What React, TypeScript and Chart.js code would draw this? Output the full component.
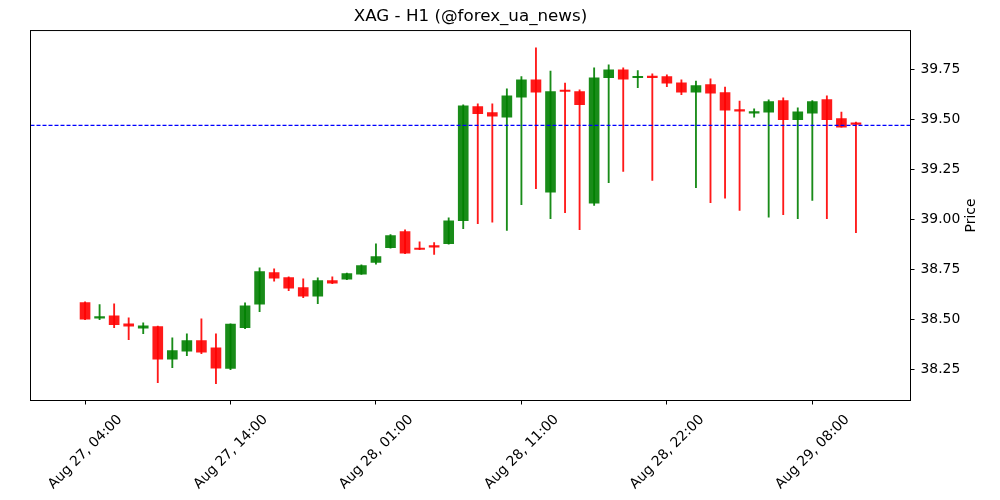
import React, { useEffect, useRef } from "react";
import { Chart, registerables } from "chart.js";

Chart.register(...registerables);

// ---- data ----
const timeLabels = [
  "Aug 27, 04:00", "Aug 27, 05:00", "Aug 27, 06:00", "Aug 27, 07:00", "Aug 27, 08:00",
  "Aug 27, 09:00", "Aug 27, 10:00", "Aug 27, 11:00", "Aug 27, 12:00", "Aug 27, 13:00",
  "Aug 27, 14:00", "Aug 27, 15:00", "Aug 27, 16:00", "Aug 27, 17:00", "Aug 27, 18:00",
  "Aug 27, 19:00", "Aug 27, 20:00", "Aug 27, 22:00", "Aug 27, 23:00", "Aug 28, 00:00",
  "Aug 28, 01:00", "Aug 28, 02:00", "Aug 28, 03:00", "Aug 28, 04:00", "Aug 28, 05:00",
  "Aug 28, 06:00", "Aug 28, 07:00", "Aug 28, 08:00", "Aug 28, 09:00", "Aug 28, 10:00",
  "Aug 28, 11:00", "Aug 28, 12:00", "Aug 28, 13:00", "Aug 28, 14:00", "Aug 28, 15:00",
  "Aug 28, 16:00", "Aug 28, 17:00", "Aug 28, 18:00", "Aug 28, 19:00", "Aug 28, 20:00",
  "Aug 28, 22:00", "Aug 28, 23:00", "Aug 29, 00:00", "Aug 29, 01:00", "Aug 29, 02:00",
  "Aug 29, 03:00", "Aug 29, 04:00", "Aug 29, 05:00", "Aug 29, 06:00", "Aug 29, 07:00",
  "Aug 29, 08:00", "Aug 29, 09:00", "Aug 29, 10:00", "Aug 29, 11:00",
];

const opens = [
  38.586, 38.508, 38.52, 38.48, 38.458, 38.466, 38.303, 38.343, 38.396, 38.36,
  38.256, 38.46, 38.578, 38.736, 38.711, 38.661, 38.618, 38.696, 38.703, 38.728,
  38.786, 38.86, 38.941, 38.858, 38.87, 38.88, 38.995, 39.566, 39.536, 39.513,
  39.613, 39.70, 39.138, 39.646, 39.641, 39.083, 39.71, 39.75, 39.71, 39.718,
  39.716, 39.685, 39.638, 39.676, 39.636, 39.548, 39.533, 39.538, 39.596, 39.50,
  39.533, 39.601, 39.506, 39.485,
];
const highs = [
  38.59, 38.576, 38.58, 38.51, 38.485, 38.468, 38.41, 38.43, 38.505, 38.43,
  38.48, 38.585, 38.76, 38.755, 38.715, 38.705, 38.71, 38.715, 38.733, 38.775,
  38.88, 38.926, 38.95, 38.89, 38.886, 39.01, 39.575, 39.58, 39.58, 39.655,
  39.716, 39.86, 39.743, 39.683, 39.65, 39.76, 39.775, 39.76, 39.746, 39.73,
  39.725, 39.70, 39.693, 39.705, 39.663, 39.593, 39.555, 39.60, 39.61, 39.56,
  39.596, 39.62, 39.538, 39.488,
];
const lows = [
  38.50, 38.50, 38.46, 38.40, 38.43, 38.185, 38.26, 38.32, 38.33, 38.18,
  38.25, 38.455, 38.54, 38.693, 38.645, 38.61, 38.58, 38.68, 38.70, 38.726,
  38.778, 38.858, 38.83, 38.85, 38.826, 38.878, 38.955, 38.98, 38.988, 38.946,
  39.075, 39.155, 39.005, 39.035, 38.95, 39.071, 39.185, 39.241, 39.66, 39.196,
  39.665, 39.625, 39.16, 39.085, 39.108, 39.046, 39.513, 39.013, 39.025, 39.005,
  39.096, 39.005, 39.463, 38.935,
];
const closes = [
  38.503, 38.515, 38.475, 38.468, 38.47, 38.303, 38.346, 38.396, 38.338, 38.258,
  38.478, 38.57, 38.741, 38.708, 38.658, 38.618, 38.696, 38.683, 38.731, 38.771,
  38.816, 38.921, 38.833, 38.851, 38.863, 38.995, 39.57, 39.53, 39.518, 39.62,
  39.70, 39.638, 39.641, 39.641, 39.575, 39.71, 39.75, 39.703, 39.716, 39.71,
  39.683, 39.638, 39.671, 39.633, 39.548, 39.543, 39.541, 39.591, 39.50, 39.54,
  39.591, 39.50, 39.463, 39.476,
];

const currentPrice = 39.472;
const xTickIndices = [0, 10, 20, 30, 40, 50];
const yTickValues = [38.25, 38.5, 38.75, 39.0, 39.25, 39.5, 39.75];
const chartTitle = "XAG - H1 (@forex_ua_news)";
const yAxisTitle = "Price";

// ---- view settings ----
const X_MIN = -3.75;
const X_MAX = 56.75;
const Y_MIN = 38.096;
const Y_MAX = 39.946;
const FONT = "'DejaVu Sans', sans-serif";
const TICK_SIZE = 13.9;
const UP = "rgba(0,128,0,0.9)";
const DOWN = "rgba(255,0,0,0.9)";

const framePlugin = {
  id: "frameAndLabel",
  afterDatasetsDraw(chart: any) {
    const { ctx, chartArea: a } = chart;
    ctx.save();
    ctx.strokeStyle = "#000";
    ctx.lineWidth = 1;
    ctx.strokeRect(a.left, a.top, a.right - a.left, a.bottom - a.top);
    ctx.restore();
  },
  afterDraw(chart: any) {
    const { ctx, chartArea: a } = chart;
    ctx.save();
    ctx.translate(971, (a.top + a.bottom) / 2);
    ctx.rotate(-Math.PI / 2);
    ctx.font = `${TICK_SIZE}px ${FONT}`;
    ctx.fillStyle = "#000";
    ctx.textAlign = "center";
    ctx.textBaseline = "middle";
    ctx.fillText(yAxisTitle, 0, 0);
    ctx.restore();
  },
};

export default function App() {
  const canvasRef = useRef<HTMLCanvasElement | null>(null);

  useEffect(() => {
    if (!canvasRef.current) return;
    const colors = opens.map((o, i) => (closes[i] >= o ? UP : DOWN));
    const chart = new Chart(canvasRef.current, {
      type: "bar",
      data: {
        datasets: [
          {
            type: "line",
            data: [
              { x: X_MIN, y: currentPrice },
              { x: X_MAX, y: currentPrice },
            ],
            borderColor: "rgba(0,0,255,1)",
            borderWidth: 1.1,
            borderDash: [4, 2],
            pointRadius: 0,
            order: 0,
          } as any,
          {
            type: "bar",
            data: opens.map((o, i) => ({ x: i, y: [o, closes[i]] })),
            backgroundColor: colors,
            borderWidth: 0,
            barThickness: 10,
            minBarLength: 1.5,
            grouped: false,
            order: 1,
          } as any,
          {
            type: "bar",
            data: lows.map((l, i) => ({ x: i, y: [l, highs[i]] })),
            backgroundColor: colors,
            borderWidth: 0,
            barThickness: 1.2,
            grouped: false,
            order: 2,
          } as any,
        ],
      },
      options: {
        responsive: false,
        animation: false,
        devicePixelRatio: 1,
        layout: { padding: { left: 30.5, right: 0, top: 0, bottom: 0 } },
        plugins: {
          legend: { display: false },
          tooltip: { enabled: false },
          title: {
            display: true,
            fullSize: false,
            text: chartTitle,
            color: "#000",
            font: { family: FONT, size: 16.7, weight: "normal", lineHeight: 1.2 },
            padding: { top: 6.9, bottom: 3.6 },
          },
        },
        scales: {
          x: {
            type: "linear",
            min: X_MIN,
            max: X_MAX,
            offset: false,
            afterBuildTicks: (s: any) => {
              s.ticks = xTickIndices.map((v) => ({ value: v }));
            },
            afterFit: (s: any) => {
              s.height = 99.5;
            },
            grid: {
              display: true,
              offset: false,
              drawOnChartArea: false,
              drawTicks: true,
              tickLength: 4,
              tickColor: "#000",
              tickWidth: 1,
            },
            border: { display: false },
            ticks: {
              autoSkip: false,
              maxRotation: 45,
              minRotation: 45,
              labelOffset: 35,
              padding: 7,
              color: "#000",
              font: { family: FONT, size: TICK_SIZE },
              callback: (v: any) => timeLabels[Math.round(Number(v))] ?? "",
            },
          },
          y: {
            type: "linear",
            position: "right",
            min: Y_MIN,
            max: Y_MAX,
            beginAtZero: false,
            afterBuildTicks: (s: any) => {
              s.ticks = yTickValues.map((v) => ({ value: v }));
            },
            afterFit: (s: any) => {
              s.width = 89.5;
            },
            grid: {
              display: true,
              drawOnChartArea: false,
              drawTicks: true,
              tickLength: 4,
              tickColor: "#000",
              tickWidth: 1,
            },
            border: { display: false },
            ticks: {
              padding: 6,
              color: "#000",
              font: { family: FONT, size: TICK_SIZE },
              callback: (v: any) => Number(v).toFixed(2),
            },
          },
        },
      } as any,
      plugins: [framePlugin],
    });
    return () => chart.destroy();
  }, []);

  return (
    <div style={{ position: "absolute", left: 0, top: 0, width: 1000, height: 500, background: "#fff" }}>
      <canvas ref={canvasRef} width={1000} height={500} style={{ display: "block", width: 1000, height: 500 }} />
    </div>
  );
}
